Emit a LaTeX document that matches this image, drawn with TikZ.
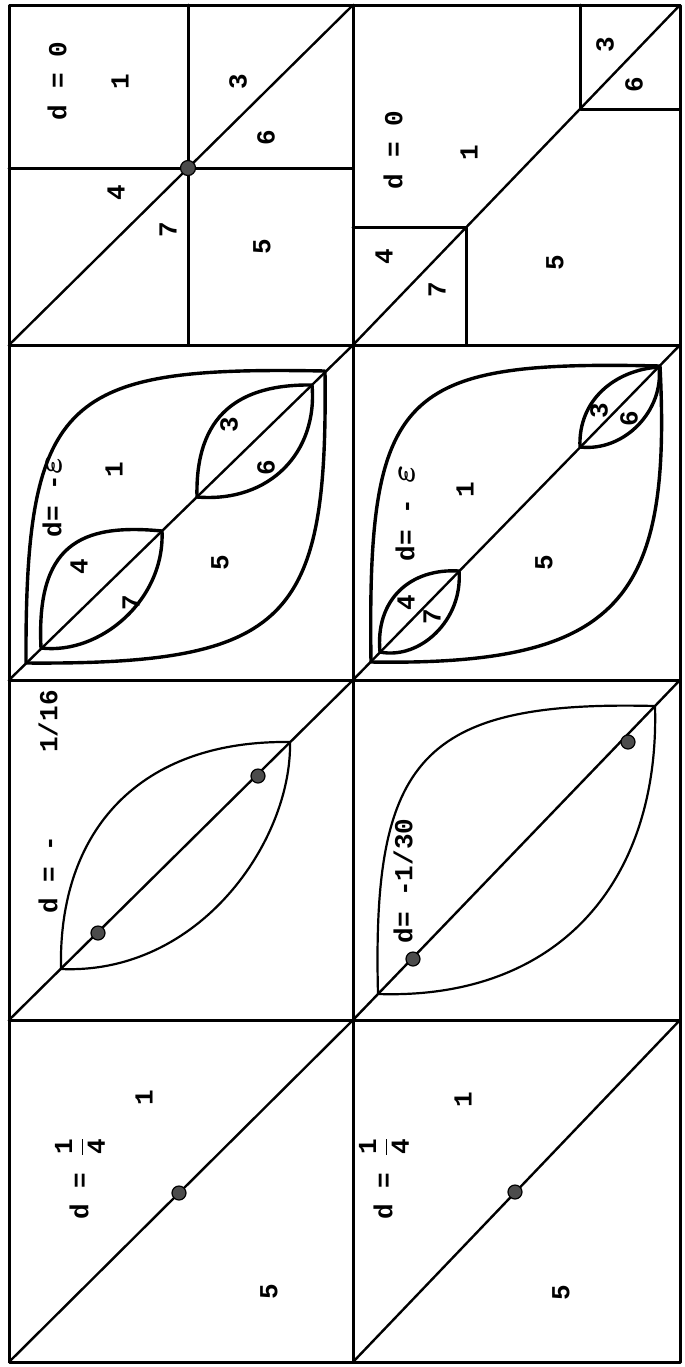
\documentclass[tikz,border=0pt]{standalone}
\usepackage{amsmath}
\usepackage{fontspec}
\setmonofont{Liberation Mono}
\usetikzlibrary{calc}

\begin{document}
\begin{tikzpicture}[x=0.5pt, y=-0.5pt, line join=round, line cap=round,
  frame/.style={line width=1.5pt},
  diag/.style={line width=1.2pt},
  lens/.style={line width=1.7pt},
  thinlens/.style={line width=1.1pt},
  dot/.style={circle, fill=black!70, draw=black, line width=0.6pt, inner sep=0pt, minimum size=7pt},
  lbl/.style={rotate=90, font=\ttfamily\bfseries\fontsize{13}{15}\selectfont, inner sep=1pt}]
\useasboundingbox (0,0) rectangle (685,1367);
% frame, columns and rows
\draw[frame] (9,5) rectangle (680,1362);
\draw[frame] (353,5) -- (353,1362);
\foreach \y in {345,680,1020} \draw[frame] (9,\y) -- (680,\y);
% one diagonal per cell
\foreach \t/\b in {5/345,345/680,680/1020,1020/1362} {
  \draw[diag] (9,\b) -- (353,\t);
  \draw[diag] (353,\b) -- (680,\t);
}
% ---- row 1, left: d = 0, crossing at the centre
\draw[frame] (188,5) -- (188,345);
\draw[frame] (9,168) -- (353,168);
\node[dot, minimum size=7.5pt] (a-c) at (188,168) {};
\node[lbl] (a-d) at (57,81) {d = 0};
\node[lbl] (a-1) at (120,82) {1};
\node[lbl] (a-3) at (238,82) {3};
\node[lbl] (a-6) at (266,138) {6};
\node[lbl] (a-4) at (116,193) {4};
\node[lbl] (a-7) at (168,230) {7};
\node[lbl] (a-5) at (262,247) {5};
% ---- row 1, right: d = 0, split corners
\draw[frame] (353,227) -- (466,227) -- (466,345);
\draw[frame] (580,5) -- (580,109) -- (680,109);
\node[lbl] (b-d) at (393,150) {d = 0};
\node[lbl] (b-1) at (469,153) {1};
\node[lbl] (b-4) at (384,257) {4};
\node[lbl] (b-7) at (437,290) {7};
\node[lbl] (b-5) at (555,263) {5};
\node[lbl] (b-3) at (605,45) {3};
\node[lbl] (b-6) at (634,85) {6};
% ---- row 2, left: d = -eps
\draw[lens] (26,663) .. controls (25,395) and (65,366) .. (325,371)
  .. controls (328,620) and (290,665) .. cycle;
\draw[lens] (41,648) .. controls (36,545) and (80,523) .. (162,531)
  .. controls (165,600) and (100,655) .. cycle;
\draw[lens] (197,497) .. controls (195,414) and (240,384) .. (312,385)
  .. controls (318,452) and (270,503) .. cycle;
\node[lbl] (c-d) at (52,497) {d= -{\LARGE\boldmath$\varepsilon$}};
\node[lbl] (c-1) at (114,470) {1};
\node[lbl] (c-3) at (229,425) {3};
\node[lbl] (c-6) at (266,468) {6};
\node[lbl] (c-4) at (79,567) {4};
\node[lbl] (c-7) at (131,603) {7};
\node[lbl] (c-5) at (220,563) {5};
% ---- row 2, right: d = -eps, small lenses
\draw[lens] (371,662) .. controls (367,390) and (400,360) .. (660,366)
  .. controls (672,600) and (620,666) .. cycle;
\draw[lens] (380,652) .. controls (375,600) and (410,568) .. (459,571)
  .. controls (463,620) and (420,660) .. cycle;
\draw[lens] (580,447) .. controls (578,400) and (615,370) .. (659,367)
  .. controls (664,410) and (625,452) .. cycle;
\node[lbl] (d-d) at (405,513) {d= - {\LARGE\boldmath$\varepsilon$}};
\node[lbl] (d-1) at (465,490) {1};
\node[lbl] (d-5) at (544,563) {5};
\node[lbl] (d-4) at (406,603) {4};
\node[lbl] (d-7) at (432,617) {7};
\node[lbl] (d-3) at (599,411) {3};
\node[lbl] (d-6) at (629,419) {6};
% ---- row 3, left: d = -1/16
\draw[thinlens] (61,969) .. controls (58,830) and (140,740) .. (290,742)
  .. controls (292,840) and (200,975) .. cycle;
\node[dot] (e-p) at (98,933) {};
\node[dot] (e-q) at (258,776) {};
\node[lbl] (e-d) at (48,802) {d = -\hspace{3.2em}1/16};
% ---- row 3, right: d = -1/30
\draw[thinlens] (378,994) .. controls (372,760) and (420,700) .. (655,706)
  .. controls (660,880) and (560,1000) .. cycle;
\node[dot] (f-p) at (413,959) {};
\node[dot] (f-q) at (628,742) {};
\node[lbl] (f-d) at (403,881) {d= -1/30};
% ---- row 4: d = 1/4
\node[dot] (g-p) at (179,1193) {};
\node[lbl] (g-d) at (80,1178) {d = $\dfrac{\text{1}}{\text{4}}$};
\node[lbl] (g-1) at (144,1098) {1};
\node[lbl] (g-5) at (269,1292) {5};
\node[dot] (h-p) at (515,1192) {};
\node[lbl] (h-d) at (384,1178) {d = $\dfrac{\text{1}}{\text{4}}$};
\node[lbl] (h-1) at (463,1100) {1};
\node[lbl] (h-5) at (561,1293) {5};
\end{tikzpicture}
\end{document}
